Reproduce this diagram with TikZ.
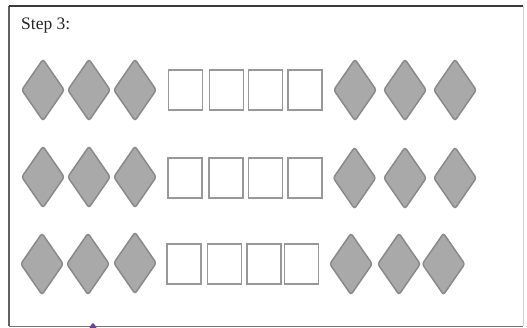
\documentclass[tikz,border=0pt]{standalone}
\usepackage{fontspec}
\setmainfont{Liberation Serif}
\usetikzlibrary{shapes.geometric}
\definecolor{dfill}{HTML}{A9A9A9}
\definecolor{dline}{HTML}{8A8A8A}
\definecolor{sline}{HTML}{989898}
\definecolor{frameA}{HTML}{3A3A3A}
\definecolor{frameB}{HTML}{D2D2D2}
\definecolor{purplemark}{HTML}{6A3FA0}
\tikzset{
  dia/.style={diamond, draw=dline, fill=dfill, line width=1.5pt, inner sep=0pt,
    minimum width=43pt, minimum height=62pt, rounded corners=2.5pt},
  sq/.style={rectangle, draw=sline, fill=white, line width=1.9pt, inner sep=0pt,
    minimum width=34pt, minimum height=40pt},
  lbl/.style={font=\fontsize{17.5}{19}\selectfont, anchor=base west, inner sep=0pt, text=black!85}
}
\begin{document}
\begin{tikzpicture}[x=1pt,y=-1pt]
\useasboundingbox (0,0) rectangle (527,328);
\fill[white] (0,0) rectangle (527,328);
% frame
\coordinate (tl) at (9,6);
\coordinate (tr) at (523,6);
\coordinate (br) at (523,326.5);
\coordinate (bl) at (9,326.5);
\draw[frameB, line width=0.8pt] (tr) -- (br);
\draw[frameA!80, line width=1.4pt] (bl) -- (tl);
\draw[frameA, line width=1.6pt] (tl) -- (tr);
\draw[frameA!70, line width=1.2pt] (bl) -- (br);
% small purple mark at bottom
\fill[purplemark, rounded corners=1pt] (89,328) -- (93,322.5) -- (97,328) -- cycle;
% label
\node[lbl] (title) at (21,30) {Step 3:};
% row 1
\node[dia] (a1) at (43,90) {};
\node[dia] (a2) at (89,90) {};
\node[dia] (a3) at (135,90) {};
\node[sq] (a4) at (185.5,90) {};
\node[sq] (a5) at (226.5,90) {};
\node[sq] (a6) at (265.5,90) {};
\node[sq] (a7) at (305,90) {};
\node[dia] (a8) at (355,90) {};
\node[dia] (a9) at (405,90) {};
\node[dia] (a10) at (455,90) {};
% row 2
\node[dia] (b1) at (43,177) {};
\node[dia] (b2) at (89,177) {};
\node[dia] (b3) at (135,177) {};
\node[sq] (b4) at (185,178) {};
\node[sq] (b5) at (226,178) {};
\node[sq] (b6) at (265.5,178) {};
\node[sq] (b7) at (305,178) {};
\node[dia] (b8) at (354.5,178) {};
\node[dia] (b9) at (405,178) {};
\node[dia] (b10) at (455,178) {};
% row 3
\node[dia] (c1) at (42,264) {};
\node[dia] (c2) at (88,264) {};
\node[dia] (c3) at (135,263) {};
\node[sq] (c4) at (184,264) {};
\node[sq] (c5) at (224.5,264) {};
\node[sq] (c6) at (264,264) {};
\node[sq] (c7) at (301.5,264) {};
\node[dia] (c8) at (351,264) {};
\node[dia] (c9) at (399,264) {};
\node[dia] (c10) at (443.5,264) {};
\end{tikzpicture}
\end{document}
